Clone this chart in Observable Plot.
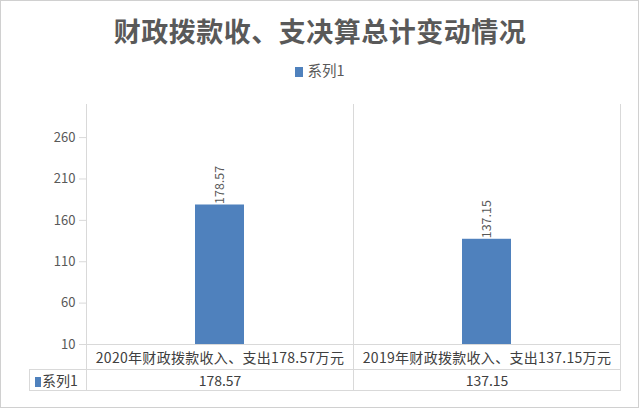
<!DOCTYPE html>
<html><head><meta charset="utf-8">
<script src="https://cdn.jsdelivr.net/npm/d3@7"></script>
<script src="https://cdn.jsdelivr.net/npm/@observablehq/plot@0.6"></script>
<style>
html,body{margin:0;padding:0;background:#fff;}
body{font-family:"Noto Sans CJK SC","Noto Sans",sans-serif;}
#wrap{position:relative;width:640px;height:410px;overflow:hidden;background:#fff;}
#border{position:absolute;left:0;top:0;width:639px;height:408px;box-sizing:border-box;border:1.5px solid #d0d0d0;pointer-events:none;}
#title{position:absolute;left:0;top:12px;width:640px;text-align:center;font-size:27px;font-weight:bold;color:#595959;line-height:38px;letter-spacing:0.5px;}
#legend{position:absolute;left:0;top:59px;width:640px;text-align:center;font-size:14.5px;color:#595959;line-height:22px;}
#legend .sw{display:inline-block;width:8px;height:10px;background:#4F81BD;margin-right:4px;vertical-align:-1px;}
#chart{position:absolute;left:0;top:88px;}
#table{position:absolute;left:29px;top:344px;border-collapse:collapse;table-layout:fixed;font-size:14px;color:#404040;}
#table td{border:1px solid #d9d9d9;text-align:center;padding:0;white-space:nowrap;overflow:hidden;}
#table td.cat{letter-spacing:0.3px;}
#table td.blank{border-top:none;border-left:none;}
#table td.ser{text-align:left;padding-left:5px;font-size:14px;}
#table .sw{display:inline-block;width:6px;height:10px;background:#4F81BD;margin-right:1px;vertical-align:-1px;}
</style>
</head><body>
<div id="wrap">
  <div id="title"></div>
  <div id="legend"></div>
  <div id="chart"></div>
  <table id="table"></table>
  <div id="border"></div>
</div>
<script>
const titleText = "财政拨款收、支决算总计变动情况";
const seriesName = "系列1";
const categories = ["2020年财政拨款收入、支出178.57万元", "2019年财政拨款收入、支出137.15万元"];
const values = [178.57, 137.15];
const valueLabels = ["178.57", "137.15"];
const yTicks = [10, 60, 110, 160, 210, 260];
const yDomain = [10, 300];

const barColor = "#4F81BD";
const gridColor = "#d9d9d9";
const textColor = "#595959";

document.getElementById("title").textContent = titleText;
document.getElementById("legend").innerHTML = `<span class="sw"></span>${seriesName}`;

const data = categories.map((c, i) => ({cat: c, value: values[i], label: valueLabels[i]}));

const W = 640, H = 322, ML = 86, MR = 20, MT = 16, MB = 66;
const step = (W - ML - MR) / categories.length;

const chart = Plot.plot({
  width: W, height: H,
  marginLeft: ML, marginRight: MR, marginTop: MT, marginBottom: MB,
  style: {fontFamily: '"Noto Sans CJK SC","Noto Sans",sans-serif', fontSize: "13px", background: "transparent", overflow: "visible"},
  x: {domain: categories, paddingInner: 0.817, paddingOuter: 0.4085, axis: null},
  y: {domain: yDomain, axis: null},
  marks: [
    Plot.ruleX(categories, {x: d => d, dx: step / 2, stroke: gridColor, strokeWidth: 1}),
    Plot.frame({anchor: "left", stroke: gridColor}),
    Plot.axisY({ticks: yTicks, tickSize: 7, tickPadding: 4, stroke: gridColor, fill: textColor, fontSize: 13, label: null, tickFormat: d => String(d)}),
    Plot.barY(data, {x: "cat", y1: yDomain[0], y2: "value", fill: barColor}),
    Plot.ruleY([yDomain[0]], {stroke: gridColor}),
    Plot.text(data, {x: "cat", y: "value", text: "label", rotate: -90, textAnchor: "start", lineAnchor: "middle", dy: -1, fill: textColor, fontSize: 12.5})
  ]
});
document.getElementById("chart").appendChild(chart);

// data table below the plot, aligned with the band columns
const tbl = document.getElementById("table");
const colW = [ML - 29, step, step];
let html = "<colgroup>" + colW.map(w => `<col style="width:${w}px">`).join("") + "</colgroup>";
html += `<tr style="height:25px"><td class="blank"></td>` + categories.map(c => `<td class="cat">${c}</td>`).join("") + "</tr>";
html += `<tr style="height:20px"><td class="ser"><span class="sw"></span>${seriesName}</td>` + valueLabels.map(v => `<td>${v}</td>`).join("") + "</tr>";
tbl.innerHTML = html;
tbl.style.width = (colW.reduce((a, b) => a + b, 0)) + "px";
</script>
</body></html>
